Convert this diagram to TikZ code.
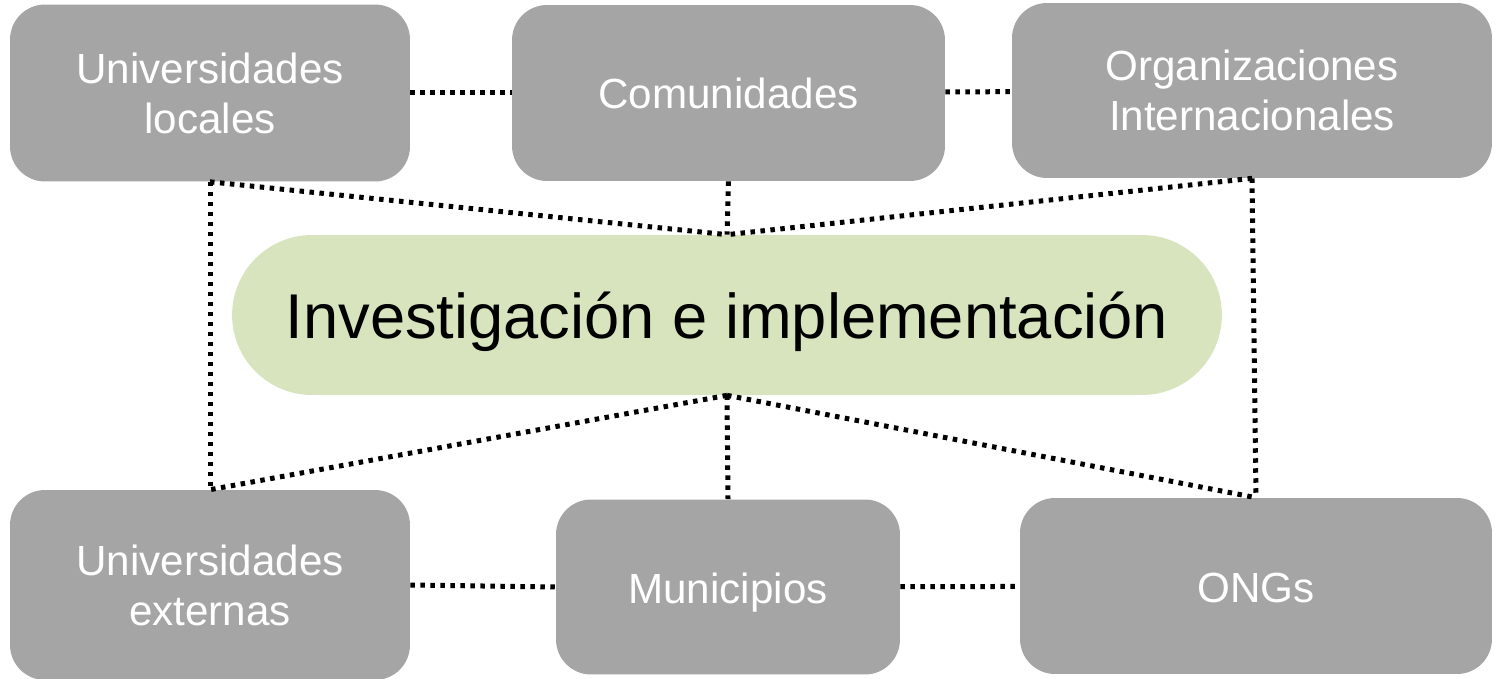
\documentclass[tikz,border=0pt]{standalone}
\usepackage{fontspec}
\setmainfont{Liberation Sans}
\usepackage{tikz}
\definecolor{xamnhat}{HTML}{A5A5A5}
\definecolor{xanhnhat}{HTML}{D7E4BD}

\begin{document}
\begin{tikzpicture}[x=0.02cm,y=-0.02cm,
		hop/.style={fill=xamnhat,rounded corners=0.7cm,text=white,align=center,inner sep=0pt,font=\fontsize{24}{28.5}\selectfont},
		motdong/.style={text height=0.74cm,text depth=0.1cm},
		loi/.style={line width=0.1cm,dash pattern=on 0.09cm off 0.11cm}]
			\useasboundingbox (0,0) rectangle (1495,679);
			\node[hop,minimum width=8cm,minimum height=3.54cm] (ul) at (210,93) {Universidades\\locales};
			\node[hop,motdong,minimum width=8.66cm,minimum height=3.52cm] (com) at (728.5,93) {Comunidades};
			\node[hop,minimum width=9.6cm,minimum height=3.5cm] (oi) at (1252,90.5) {Organizaciones\\Internacionales};
			\node[fill=xanhnhat,rounded corners=1.6cm,inner sep=0pt,minimum width=19.8cm,minimum height=3.2cm,text height=1.1cm,text depth=0.14cm,font=\fontsize{36}{43}\selectfont] (core) at (727,315) {Investigación e implementación};
			\node[hop,minimum width=8cm,minimum height=3.8cm] (ue) at (210,585) {Universidades\\externas};
			\node[hop,motdong,minimum width=6.88cm,minimum height=3.5cm] (mun) at (728,587) {Municipios};
			\node[hop,motdong,minimum width=9.44cm,minimum height=3.52cm] (ong) at (1256,586) {ONGs};
			\draw[loi] (ul) -- (com);
			\draw[loi] (com) -- (oi);
			\draw[loi] (ue.east) -- (mun.west);
			\draw[loi] (mun) -- (ong);
			\draw[loi] (ul.south) -- (core.north);
			\draw[loi] (com.south) -- (core.north);
			\draw[loi] (oi.south) -- (core.north);
			\draw[loi] (core.south) -- (ue.north);
			\draw[loi] (core.south) -- (mun.north);
			\draw[loi] (core.south) -- (ong.north);
			\draw[loi] (ul.south) -- (ue.north);
			\draw[loi] (oi.south) -- (ong.north);
		\end{tikzpicture}
\end{document}
